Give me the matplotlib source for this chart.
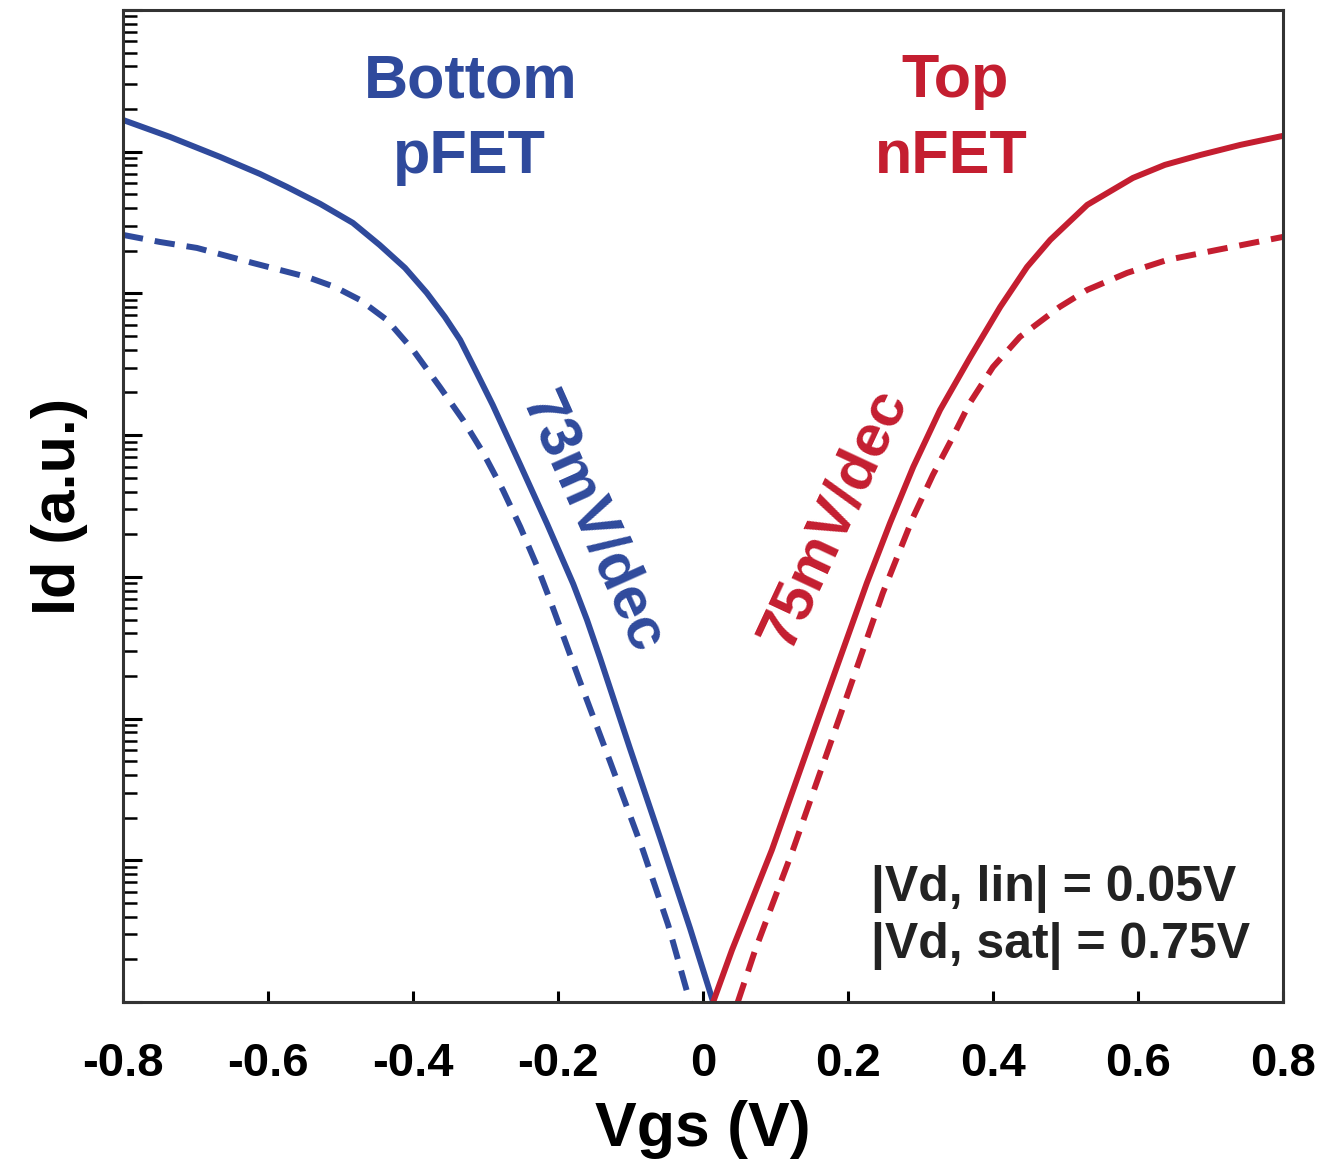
import numpy as np
import matplotlib
matplotlib.use("Agg")
import matplotlib.pyplot as plt
from matplotlib.ticker import LogLocator, NullFormatter, FixedLocator, FixedFormatter

# ---- data (Vgs in V, log10 of Id in a.u.) ----
vgs_p_lin = [-0.800, -0.735, -0.666, -0.611, -0.574, -0.528, -0.483, -0.446, -0.411,
             -0.381, -0.356, -0.335, -0.312, -0.290, -0.252, -0.215, -0.179, -0.160,
             -0.142, -0.101, -0.059, -0.018, 0.014]
logid_p_lin = [6.224, 6.104, 5.963, 5.843, 5.752, 5.632, 5.498, 5.342, 5.180,
               5.004, 4.834, 4.672, 4.439, 4.213, 3.790, 3.373, 2.950, 2.696,
               2.428, 1.793, 1.157, 0.522, 0.0]

vgs_p_sat = [-0.800, -0.749, -0.698, -0.621, -0.546, -0.508, -0.473, -0.436, -0.400,
             -0.363, -0.331, -0.303, -0.276, -0.252, -0.229, -0.211, -0.170, -0.128,
             -0.083, -0.048, -0.018]
logid_p_sat = [5.413, 5.363, 5.321, 5.215, 5.116, 5.046, 4.954, 4.813, 4.601,
               4.340, 4.107, 3.874, 3.613, 3.352, 3.077, 2.837, 2.265, 1.694,
               1.073, 0.543, 0.0]

vgs_n_lin = [0.014, 0.040, 0.095, 0.157, 0.226, 0.258, 0.290, 0.327, 0.368, 0.410,
             0.447, 0.479, 0.530, 0.593, 0.637, 0.686, 0.741, 0.800]
logid_n_lin = [0.0, 0.367, 1.073, 1.969, 2.957, 3.380, 3.776, 4.178, 4.545, 4.905,
               5.187, 5.378, 5.625, 5.815, 5.907, 5.977, 6.048, 6.112]

vgs_n_sat = [0.048, 0.072, 0.124, 0.189, 0.248, 0.290, 0.317, 0.341, 0.368, 0.400,
             0.437, 0.492, 0.530, 0.585, 0.640, 0.709, 0.800]
logid_n_sat = [0.0, 0.367, 1.073, 2.018, 2.886, 3.423, 3.719, 3.952, 4.227, 4.481,
               4.693, 4.905, 5.025, 5.145, 5.236, 5.307, 5.399]

xticks = [-0.8, -0.6, -0.4, -0.2, 0.0, 0.2, 0.4, 0.6, 0.8]
xtick_labels = ["-0.8", "-0.6", "-0.4", "-0.2", "0", "0.2", "0.4", "0.6", "0.8"]

blue = "#2f4a9c"
red = "#c41e30"

plt.rcParams['font.family'] = ['Liberation Sans', 'DejaVu Sans']
plt.rcParams['font.weight'] = 'bold'

fig = plt.figure(figsize=(13.27, 11.65), dpi=100)
ax = fig.add_axes([123/1327, 1 - 1002/1165, 1160/1327, 992/1165])

lw = 4.3
dash = (3.4, 2.0)
ax.plot(vgs_p_lin, 10**np.array(logid_p_lin), color=blue, lw=lw, solid_joinstyle='round')
ax.plot(vgs_p_sat, 10**np.array(logid_p_sat), color=blue, lw=lw, dashes=dash)
ax.plot(vgs_n_lin, 10**np.array(logid_n_lin), color=red, lw=lw, solid_joinstyle='round')
ax.plot(vgs_n_sat, 10**np.array(logid_n_sat), color=red, lw=lw, dashes=dash)

ax.set_yscale('log')
ax.set_ylim(1, 1e7)
ax.set_xlim(-0.8, 0.8)

ax.yaxis.set_major_locator(LogLocator(base=10, numticks=20))
ax.yaxis.set_minor_locator(LogLocator(base=10, subs=np.arange(2, 10), numticks=20))
ax.yaxis.set_major_formatter(NullFormatter())
ax.yaxis.set_minor_formatter(NullFormatter())
ax.xaxis.set_major_locator(FixedLocator(xticks))
ax.xaxis.set_major_formatter(FixedFormatter(xtick_labels))

ax.tick_params(axis='y', which='major', direction='in', length=14, width=2.2, left=True, right=False)
ax.tick_params(axis='y', which='minor', direction='in', length=10, width=1.8, left=True, right=False)
ax.tick_params(axis='x', which='major', direction='in', length=8, width=2.2, top=False,
               labelsize=34, pad=29)
ax.tick_params(axis='x', which='minor', bottom=False)
for s in ax.spines.values():
    s.set_linewidth(2.2)
    s.set_color('#333333')

ax.set_xlabel("Vgs (V)", fontsize=45, fontweight='bold', labelpad=10)
ax.set_ylabel("Id (a.u.)", fontsize=44, fontweight='bold', labelpad=22)

ax.text(-0.32, 10**((1002-82)/141.7), "Bottom", color=blue, fontsize=44, fontweight='bold',
        ha='center', va='center')
ax.text(-0.322, 10**((1002-158)/141.7), "pFET", color=blue, fontsize=44, fontweight='bold',
        ha='center', va='center')
ax.text(0.347, 10**((1002-82)/141.7), "Top", color=red, fontsize=44, fontweight='bold',
        ha='center', va='center')
ax.text(0.342, 10**((1002-158)/141.7), "nFET", color=red, fontsize=44, fontweight='bold',
        ha='center', va='center')

ax.text(-0.153, 10**((1002-523)/141.7), "73mV/dec", color=blue, fontsize=43, fontweight='bold',
        ha='center', va='center', rotation=-66, rotation_mode='anchor')
ax.text(0.181, 10**((1002-518)/141.7), "75mV/dec", color=red, fontsize=43, fontweight='bold',
        ha='center', va='center', rotation=65, rotation_mode='anchor')

ax.text((871-703)/725, 10**((1002-889)/141.7), "|Vd, lin| = 0.05V", color='#222222',
        fontsize=36, fontweight='bold', ha='left', va='center')
ax.text((871-703)/725, 10**((1002-946)/141.7), "|Vd, sat| = 0.75V", color='#222222',
        fontsize=36, fontweight='bold', ha='left', va='center')

fig.savefig("out.png", dpi=100)
